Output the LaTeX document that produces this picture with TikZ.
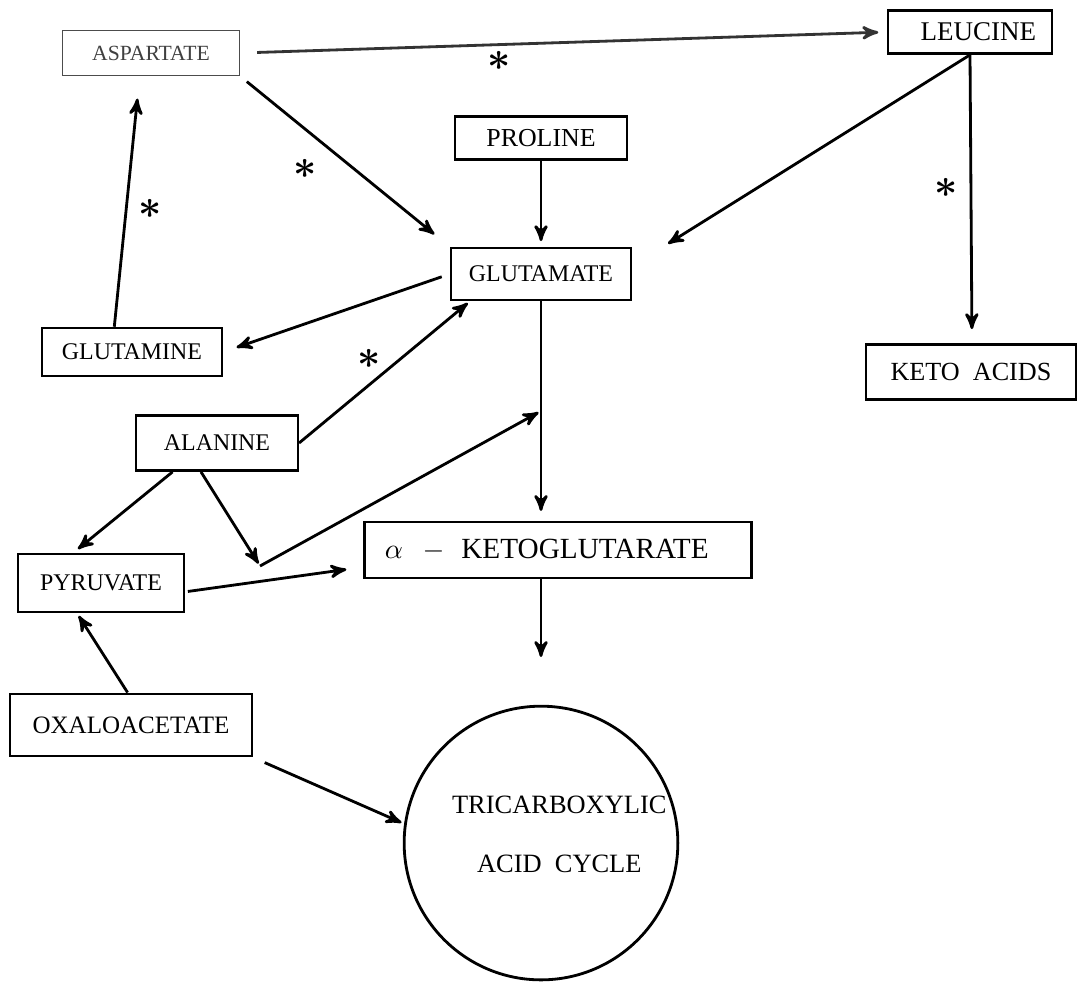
\documentclass[tikz,border=0pt]{standalone}
\usepackage{amsmath}
\usepackage{fontspec}
\setmainfont{Liberation Serif}
\usetikzlibrary{arrows,positioning,calc}

\begin{document}
\begin{tikzpicture}[x=0.0125cm,y=-0.0125cm,>=stealth',shorten >=1pt,
    box/.style={draw,line width=0.9pt,inner sep=2pt,font=\fontsize{8.5}{10}\selectfont},
    ast/.style={inner sep=0pt,font=\Large},
    flow/.style={line width=1pt}]
    \useasboundingbox (0,0) rectangle (1080,989);

    \node[box, draw=black!70, text=black!75, line width=0.6pt, font=\fontsize{7.7}{9}\selectfont,
          minimum width=2.21cm, minimum height=0.56cm] (asp)  at (151,53)  {ASPARTATE};
    \node[box, font=\fontsize{9.6}{11}\selectfont,
          minimum width=2.05cm, minimum height=0.54cm] (leu)  at (970,32)  {\hspace*{6pt}LEUCINE};
    \node[box, font=\fontsize{9.2}{11}\selectfont,
          minimum width=2.15cm, minimum height=0.54cm] (pro)  at (541,138) {PROLINE};
    \node[box, minimum width=2.25cm, minimum height=0.65cm] (glu)  at (541,274) {GLUTAMATE};
    \node[box, minimum width=2.25cm, minimum height=0.6cm]  (gln)  at (132,352) {GLUTAMINE};
    \node[box, font=\fontsize{9.3}{11}\selectfont,
          minimum width=2.62cm, minimum height=0.69cm] (keto) at (971,372) {KETO\ \ ACIDS};
    \node[box, minimum width=2.02cm, minimum height=0.69cm] (ala)  at (217,443) {ALANINE};
    \node[box, minimum width=2.07cm, minimum height=0.73cm] (pyr)  at (101,583) {PYRUVATE};
    \node[box, font=\fontsize{10.4}{12}\selectfont,
          minimum width=4.84cm, minimum height=0.7cm]  (akg)  at (558,550)
          {$\alpha$\hspace{7pt}$-$\hspace{6pt}KETOGLUTARATE\hspace*{8pt}};
    \node[box, font=\fontsize{8.9}{10}\selectfont,
          minimum width=3.02cm, minimum height=0.78cm] (oxa)  at (131,725) {OXALOACETATE};
    \node[draw, circle, line width=1pt, inner sep=0pt, minimum size=3.42cm, align=center,
          font=\fontsize{9.4}{11}\selectfont] (tca) at (541,843)
          {\hspace*{13pt}TRICARBOXYLIC\\[10pt]\hspace*{13pt}ACID\ \ CYCLE\\[-5pt]\mbox{}};

    \coordinate (jn)  at (260,566);
    \coordinate (mid) at ($(glu.south)!.5!(glu.south |- akg.north)$);

    \path[->, flow]
    (asp.east)        edge[draw=black!80, shorten <=6pt, shorten >=3pt]
                           node[ast, pos=.4, below=2pt] {$\boldsymbol{\ast}$}        (leu.west)
    (asp.south east)  edge[shorten <=3pt, shorten >=7pt]
                           node[ast, pos=.42, below left=5pt] {$\boldsymbol{\ast}$}  (glu.north west)
    (gln.125)         edge[shorten >=8pt]
                           node[ast, pos=.47, right=4pt] {$\boldsymbol{\ast}$}       (asp.244)
    (pro.south)       edge[shorten >=2pt]                                             (glu.north)
    (leu.south)       edge[shorten >=15pt]                                            (glu.5)
    (leu.south)       edge[shorten >=5pt]
                           node[ast, pos=.46, left=4pt] {$\boldsymbol{\ast}$}        (keto.88)
    (glu.west)        edge[shorten <=3pt, shorten >=5pt]                              (gln.east)
    (ala.east)        edge node[ast, pos=.5, above left=1pt] {$\boldsymbol{\ast}$}  (glu.201)
    (glu.south)       edge[shorten >=3.5pt]                                           (glu.south |- akg.north)
    (ala.213)         edge[shorten >=2pt]                                             (pyr.132)
    (ala.241)         edge                                                            (jn)
    (jn)              edge                                                            (mid)
    (pyr.-6)          edge[shorten <=1pt, shorten >=6pt]                              (akg.185)
    (akg.south -| tca.north) edge[shorten >=17pt]                                     (tca.north)
    (oxa.96)          edge                                                            (pyr.232)
    (oxa.south east)  edge[shorten <=4.5pt]                                           (tca.172)
    ;
\end{tikzpicture}
\end{document}
